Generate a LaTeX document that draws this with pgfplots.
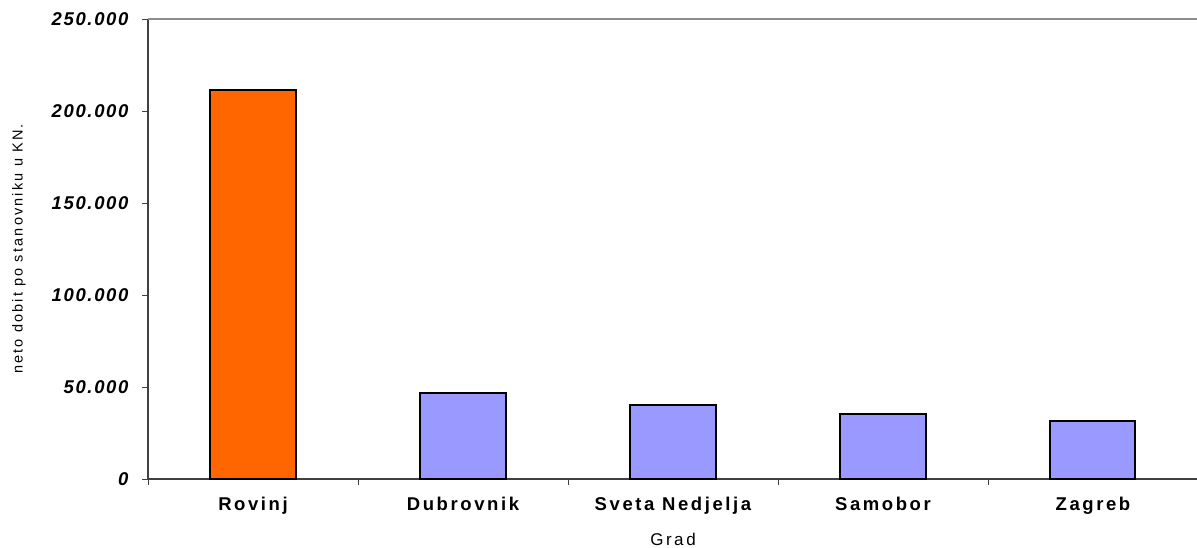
\documentclass[border=0pt]{standalone}
\usepackage{fontspec}
\setmainfont{Liberation Sans}
\newfontfamily\tickfont[LetterSpace=9]{Liberation Sans Bold Italic}
\newfontfamily\catfont[LetterSpace=14]{Liberation Sans Bold}
\newfontfamily\labfont[LetterSpace=15]{Liberation Sans}
\usepackage{pgfplots}
\pgfplotsset{compat=1.18}
\definecolor{barorange}{HTML}{FF6600}
\definecolor{barblue}{HTML}{9999FF}
\definecolor{gridgray}{HTML}{8C8C8C}
\begin{document}
\begin{tikzpicture}[x=1pt,y=1pt]
\useasboundingbox (0,0) rectangle (1197,547);
\begin{axis}[
  at={(148pt,68pt)}, anchor=south west,
  scale only axis, width=1050pt, height=460pt,
  xmin=-0.5, xmax=4.5, ymin=0, ymax=250000,
  axis x line*=bottom, axis y line*=left,
  axis line style={line width=1.4pt, draw=black!75},
  ybar, bar shift=0pt, bar width=0.405,
  xtick={0,1,2,3,4},
  xticklabels={Rovinj,Dubrovnik,Sveta Nedjelja,Samobor,Zagreb},
  major x tick style={draw=none},
  minor xtick={-0.5,0.5,1.5,2.5,3.5,4.5},
  minor x tick style={line width=0.8pt, draw=black!75},
  minor tick length=6pt,
  ytick={0,50000,100000,150000,200000,250000},
  major tick length=6pt,
  y tick style={line width=0.8pt, draw=black!75},
  tick align=outside,
  scaled y ticks=false,
  /pgf/number format/.cd, fixed, 1000 sep={.}, assume math mode=true,
  /pgfplots/.cd,
  yticklabel style={font=\tickfont\fontsize{18.5}{20}\selectfont, xshift=-10pt},
  xticklabel style={font=\catfont\fontsize{18.5}{20}\selectfont, yshift=-9pt},
  ylabel={neto dobit po stanovniku u KN.},
  ylabel style={font=\labfont\fontsize{14.5}{16}\selectfont, at={(axis description cs:0,0.5)}, anchor=center, yshift=129pt},
  xlabel={Grad},
  xlabel style={font=\labfont\fontsize{17}{19}\selectfont, at={(axis description cs:0.5,0)}, anchor=center, yshift=-60pt},
  after end axis/.code={\draw[gridgray, line width=1.4pt] (rel axis cs:0,1) -- (rel axis cs:1,1);},
]
\addplot[fill=barorange, draw=black, line width=2pt] coordinates {(0,211500)};
\addplot[fill=barblue, draw=black, line width=2pt] coordinates {(1,46800) (2,40300) (3,35400) (4,31300)};
\end{axis}
\end{tikzpicture}
\end{document}
